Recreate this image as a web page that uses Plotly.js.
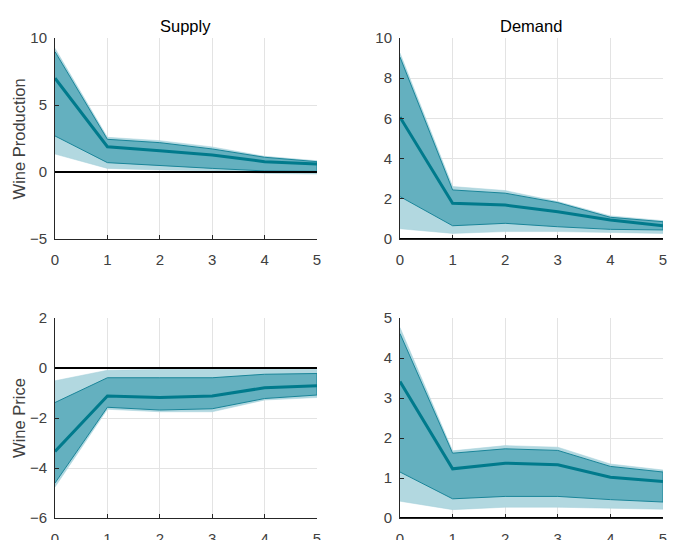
<!DOCTYPE html>
<html>
<head>
<meta charset="utf-8">
<script src="https://cdn.plot.ly/plotly-3.0.1.min.js"></script>
<style>html,body{margin:0;padding:0;background:#fff}#chart{width:675px;height:540px}</style>
</head>
<body>
<div id="chart"></div>
<script>
const horizon = [0, 1, 2, 3, 4, 5];
const colTitles = ["Supply", "Demand"];
const rowTitles = ["Wine Production", "Wine Price"];

// Panel 1: Supply -> Wine Production
const p1Median = [7.0, 1.89, 1.59, 1.27, 0.77, 0.6];
const p1InnerUp = [8.98, 2.44, 2.19, 1.72, 1.1, 0.77];
const p1InnerLo = [2.69, 0.7, 0.47, 0.27, 0.08, 0.05];
const p1OuterUp = [9.23, 2.59, 2.34, 1.87, 1.17, 0.84];
const p1OuterLo = [1.34, 0.27, 0.15, 0.1, -0.1, -0.15];

// Panel 2: Demand -> Wine Production
const p2Median = [6.06, 1.78, 1.69, 1.36, 0.95, 0.66];
const p2InnerUp = [9.05, 2.44, 2.28, 1.81, 1.08, 0.86];
const p2InnerLo = [2.11, 0.66, 0.78, 0.61, 0.48, 0.45];
const p2OuterUp = [9.25, 2.61, 2.41, 1.86, 1.15, 0.91];
const p2OuterLo = [0.51, 0.28, 0.37, 0.37, 0.33, 0.28];

// Panel 3: Supply -> Wine Price
const p3Median = [-3.34, -1.12, -1.18, -1.12, -0.79, -0.71];
const p3InnerUp = [-1.38, -0.39, -0.39, -0.39, -0.25, -0.22];
const p3InnerLo = [-4.6, -1.57, -1.68, -1.63, -1.22, -1.08];
const p3OuterUp = [-0.51, -0.09, -0.06, -0.06, -0.06, -0.05];
const p3OuterLo = [-4.76, -1.65, -1.75, -1.75, -1.28, -1.18];

// Panel 4: Demand -> Wine Price
const p4Median = [3.41, 1.23, 1.37, 1.33, 1.02, 0.91];
const p4InnerUp = [4.61, 1.62, 1.73, 1.69, 1.29, 1.15];
const p4InnerLo = [1.15, 0.48, 0.54, 0.54, 0.46, 0.4];
const p4OuterUp = [4.76, 1.68, 1.81, 1.77, 1.35, 1.2];
const p4OuterLo = [0.42, 0.21, 0.27, 0.27, 0.25, 0.22];

const panels = [
  {med: p1Median, iu: p1InnerUp, il: p1InnerLo, ou: p1OuterUp, ol: p1OuterLo, range: [-5, 10], dtick: 5},
  {med: p2Median, iu: p2InnerUp, il: p2InnerLo, ou: p2OuterUp, ol: p2OuterLo, range: [0, 10], dtick: 2},
  {med: p3Median, iu: p3InnerUp, il: p3InnerLo, ou: p3OuterUp, ol: p3OuterLo, range: [-6, 2], dtick: 2},
  {med: p4Median, iu: p4InnerUp, il: p4InnerLo, ou: p4OuterUp, ol: p4OuterLo, range: [0, 5], dtick: 1}
];

const outerCol = '#b2d8e0';
const innerCol = '#64b0bf';
const edgeCol = '#1a8599';
const medCol = '#007a8c';

const xDomains = [[0.0815, 0.4696], [0.5926, 0.9822]];
const yDomains = [[0.5574, 0.9296], [0.0407, 0.4111]];

const traces = [];
const layout = {
  width: 675, height: 540,
  margin: {l: 0, r: 0, t: 0, b: 0},
  paper_bgcolor: '#fff', plot_bgcolor: '#fff',
  showlegend: false,
  font: {family: 'Liberation Sans, Arial, sans-serif', size: 14, color: '#404040'},
  annotations: [], shapes: []
};

panels.forEach((p, i) => {
  const row = Math.floor(i / 2), col = i % 2;
  const n = i + 1;
  const xa = n === 1 ? 'x' : 'x' + n;
  const ya = n === 1 ? 'y' : 'y' + n;
  const polyX = horizon.concat(horizon.slice().reverse());
  traces.push({x: polyX, y: p.ou.concat(p.ol.slice().reverse()), xaxis: xa, yaxis: ya,
    type: 'scatter', mode: 'lines', fill: 'toself', fillcolor: outerCol,
    line: {color: '#a6d1da', width: 0.5}, hoverinfo: 'skip'});
  traces.push({x: polyX, y: p.iu.concat(p.il.slice().reverse()), xaxis: xa, yaxis: ya,
    type: 'scatter', mode: 'lines', fill: 'toself', fillcolor: innerCol,
    line: {color: edgeCol, width: 1}, hoverinfo: 'skip'});
  traces.push({x: horizon, y: p.med, xaxis: xa, yaxis: ya, type: 'scatter', mode: 'lines',
    line: {color: medCol, width: 3}});
  const axCommon = {
    showline: true, linecolor: '#262626', linewidth: 1,
    ticks: 'inside', ticklen: 4, tickcolor: '#262626',
    showgrid: true, gridcolor: '#e3e3e3', gridwidth: 1,
    zeroline: false, automargin: false, fixedrange: true,
    tickfont: {size: 15, color: '#404040'}
  };
  layout['xaxis' + (n === 1 ? '' : n)] = Object.assign({}, axCommon, {
    domain: xDomains[col], range: [0, 5], dtick: 1, tick0: 0,
    anchor: ya, ticklabelstandoff: 7
  });
  layout['yaxis' + (n === 1 ? '' : n)] = Object.assign({}, axCommon, {
    domain: yDomains[row], range: p.range, dtick: p.dtick, tick0: 0,
    anchor: xa, ticklabelstandoff: 4
  });
  layout.shapes.push({type: 'line', xref: xa, yref: ya, x0: 0, x1: 5, y0: 0, y1: 0,
    line: {color: '#000', width: 2}, layer: 'above'});
});

colTitles.forEach((t, c) => {
  layout.annotations.push({text: t, xref: 'paper', yref: 'paper',
    x: (xDomains[c][0] + xDomains[c][1]) / 2, y: yDomains[0][1] + 0.002,
    xanchor: 'center', yanchor: 'bottom', showarrow: false,
    font: {size: 16.5, color: '#000'}});
});
rowTitles.forEach((t, r) => {
  layout.annotations.push({text: t, xref: 'paper', yref: 'paper',
    x: 0.028, y: (yDomains[r][0] + yDomains[r][1]) / 2,
    xanchor: 'center', yanchor: 'middle', textangle: -90, showarrow: false,
    font: {size: 16.5, color: '#404040'}});
});

Plotly.newPlot('chart', traces, layout, {displayModeBar: false, staticPlot: true});
</script>
</body>
</html>
